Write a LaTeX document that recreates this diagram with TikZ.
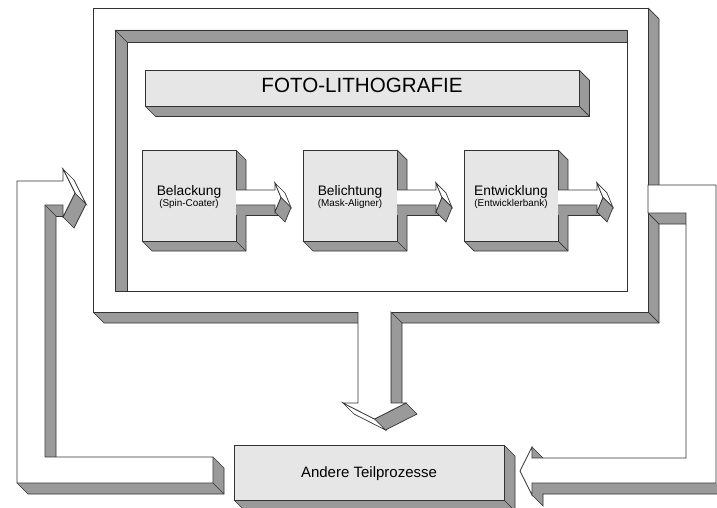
\documentclass[tikz,border=0pt]{standalone}
\usepackage{fontspec}
\setmainfont{Liberation Sans}
\definecolor{sidegray}{HTML}{9A9A9A}
\definecolor{facegray}{HTML}{E6E6E6}
\definecolor{edgecol}{HTML}{333333}
\tikzset{
  edge/.style={draw=edgecol,line width=0.7pt,line join=miter},
  side/.style={fill=sidegray},
  lbl/.style={anchor=base,inner sep=0pt,text=black},
}
% slab: x1 y1 x2 y2 depth facecolor
\newcommand\drawslab[6]{%
  \fill[side] (#3,#2) -- (#3+#5,#2+#5) -- (#3+#5,#4+#5) -- (#1+#5,#4+#5) -- (#1,#4) -- (#3,#4) -- cycle;
  \draw[edge] (#3,#2) -- (#3+#5,#2+#5) -- (#3+#5,#4+#5) -- (#1+#5,#4+#5) -- (#1,#4);
  \draw[edge] (#3,#4) -- (#3+#5,#4+#5);
  \draw[edge,fill=#6] (#1,#2) rectangle (#3,#4);
}
% small 3D arrow starting at box front right edge x0
\newcommand\smallarrow[1]{%
  \fill[side] (#1,205) -- (#1+39,205) -- (#1+49,215) -- (#1,215) -- cycle;
  \draw[edge] (#1+10,215) -- (#1+49,215);
  \draw[edge,fill=white] (#1,190) -- (#1+39,190) -- (#1+39,183) -- (#1+45,197.5) -- (#1+39,212) -- (#1+39,205) -- (#1,205);
  \draw[edge,fill=white] (#1+39,183) -- (#1+49,193) -- (#1+55,207.5) -- (#1+45,197.5) -- cycle;
  \draw[edge,side] (#1+45,197.5) -- (#1+55,207.5) -- (#1+49,222) -- (#1+39,212) -- cycle;
}
\begin{document}
\begin{tikzpicture}[x=1pt,y=-1pt]
\useasboundingbox (0,0) rectangle (717,508);
\clip (0,0) rectangle (717,508);
\fill[white] (0,0) rectangle (717,508);

% outer frame
\drawslab{93}{8}{648}{312}{11}{white}
% recess
\draw[edge] (115,30) rectangle (627,291);
\filldraw[edge,side] (115,30) -- (627,30) -- (627,42) -- (127,42) -- (127,291) -- (115,291) -- cycle;
\draw[edge] (115,30) -- (127,42);

% title bar
\drawslab{145}{70}{579}{106}{10.5}{facegray}
\node[lbl,font=\fontsize{20.6}{24}\selectfont] (title) at (362,93) {FOTO-LITHOGRAFIE};

% process boxes
\drawslab{142}{150}{236}{241}{10}{facegray}
\drawslab{303}{150}{397}{241}{10}{facegray}
\drawslab{464}{150}{558}{241}{10}{facegray}
\node[lbl,font=\fontsize{13.8}{16}\selectfont] (b1) at (189,195) {Belackung};
\node[lbl,font=\fontsize{9.9}{12}\selectfont] (b1s) at (189,206.5) {(Spin-Coater)};
\node[lbl,font=\fontsize{13.8}{16}\selectfont] (b2) at (350,195) {Belichtung};
\node[lbl,font=\fontsize{9.9}{12}\selectfont] (b2s) at (350,206.5) {(Mask-Aligner)};
\node[lbl,font=\fontsize{13.8}{16}\selectfont] (b3) at (511,195) {Entwicklung};
\node[lbl,font=\fontsize{9.9}{12}\selectfont] (b3s) at (511,206.5) {(Entwicklerbank)};

% arrows between boxes
\smallarrow{236}
\smallarrow{397}
\smallarrow{558}

% down arrow
\draw[edge,side] (391,312) -- (402,323) -- (402,414) -- (391,403) -- cycle;
\draw[edge,side] (374.5,419) -- (406,403) -- (417,414) -- (385.5,430) -- cycle;
\draw[edge,fill=white] (343,403) -- (374.5,419) -- (385.5,430) -- (354,414) -- cycle;
\fill[white] (358,312) -- (358,403) -- (343,403) -- (374.5,419) -- (406,403) -- (391,403) -- (391,312) -- cycle;
\draw[edge] (358,312) -- (358,403) -- (343,403) -- (374.5,419) -- (406,403) -- (391,403) -- (391,312);

% left loop arrow
\fill[side] (45,205) -- (63,205) -- (63,216) -- (56,216) -- (56,457) -- (45,457) -- cycle;
\draw[edge] (45,205) -- (56,216) -- (56,457);
\draw[edge] (56,216) -- (63,216);
\fill[side] (17,483) -- (213,483) -- (213,457) -- (224,468) -- (224,494) -- (28,494) -- cycle;
\draw[edge] (17,483) -- (28,494) -- (224,494) -- (224,468) -- (213,457);
\draw[edge] (213,483) -- (224,494);
\draw[edge,side] (75,193) -- (86,204) -- (74,228) -- (63,217) -- cycle;
\draw[edge,fill=white] (63,169) -- (74,180) -- (86,204) -- (75,193) -- cycle;
\draw[edge,fill=white] (17,181) -- (63,181) -- (63,169) -- (75,193) -- (63,217) -- (63,205) -- (45,205) -- (45,457) -- (213,457) -- (213,483) -- (17,483) -- cycle;

% right loop arrow
\fill[side] (648,213) -- (686,213) -- (686,224) -- (659,224) -- cycle;
\draw[edge] (648,213) -- (659,224) -- (686,224);
\fill[side] (532,483) -- (716,483) -- (727,494) -- (543,494) -- (543,506) -- (532,495) -- cycle;
\draw[edge] (532,495) -- (543,506) -- (543,494) -- (727,494);
\fill[side] (532,447) -- (543,458) -- (532,458) -- cycle;
\draw[edge] (532,447) -- (543,458);
\draw[edge,fill=white] (648,185) -- (716,185) -- (716,483) -- (532,483) -- (532,495) -- (520,471) -- (532,447) -- (532,458) -- (686,458) -- (686,213) -- (648,213) -- cycle;

% other processes box
\drawslab{234}{445}{504}{500}{11}{facegray}
\node[lbl,font=\fontsize{15}{18}\selectfont] (other) at (369,477) {Andere Teilprozesse};
\end{tikzpicture}
\end{document}
